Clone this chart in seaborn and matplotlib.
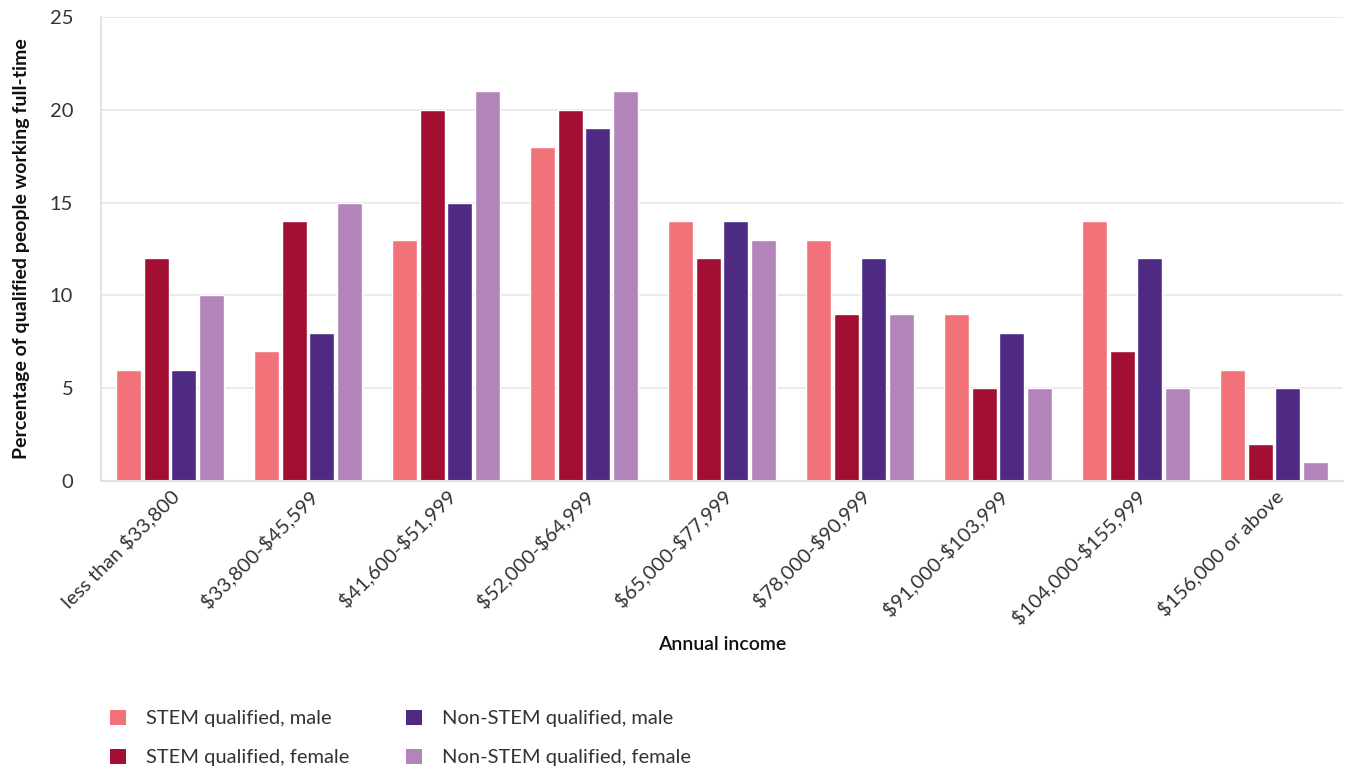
import matplotlib
matplotlib.use("Agg")
import matplotlib.pyplot as plt
from matplotlib.patches import Patch
import seaborn as sns
import pandas as pd

income_bands = [
    "less than $33,800", "$33,800-$45,599", "$41,600-$51,999", "$52,000-$64,999",
    "$65,000-$77,999", "$78,000-$90,999", "$91,000-$103,999",
    "$104,000-$155,999", "$156,000 or above",
]
groups = [
    "STEM qualified, male", "STEM qualified, female",
    "Non-STEM qualified, male", "Non-STEM qualified, female",
]
stem_male = [6, 7, 13, 18, 14, 13, 9, 14, 6]
stem_female = [12, 14, 20, 20, 12, 9, 5, 7, 2]
nonstem_male = [6, 8, 15, 19, 14, 12, 8, 12, 5]
nonstem_female = [10, 15, 21, 21, 13, 9, 5, 5, 1]
palette = ["#F2727A", "#A30F33", "#4E2A82", "#B384BA"]

rows = []
for g, vals in zip(groups, [stem_male, stem_female, nonstem_male, nonstem_female]):
    for band, v in zip(income_bands, vals):
        rows.append({"band": band, "group": g, "value": v})
df = pd.DataFrame(rows)

sns.set_theme(style="white")
plt.rcParams["font.family"] = ["Lato", "DejaVu Sans"]
plt.rcParams["text.parse_math"] = False

fig = plt.figure(figsize=(13.5, 7.72), dpi=100)
ax = fig.add_axes([101 / 1350, 1 - 481 / 772, (1343 - 101) / 1350, (481 - 17) / 772])

sns.barplot(data=df, x="band", y="value", hue="group", order=income_bands,
            hue_order=groups, palette=palette, width=0.8, gap=0.1,
            saturation=1, ax=ax, legend=False)

ax.set_ylim(0, 25)
ax.set_xlim(-0.5, len(income_bands) - 0.5)
ax.set_yticks([0, 5, 10, 15, 20, 25])
ax.yaxis.grid(True, color="#E6E6E6", linewidth=1.2)
ax.set_axisbelow(True)
for side in ["top", "right"]:
    ax.spines[side].set_visible(False)
for side in ["left", "bottom"]:
    ax.spines[side].set_color("#E3E3E3")
    ax.spines[side].set_linewidth(1.5)

ax.tick_params(axis="y", length=0, pad=20, labelsize=14.5, labelcolor="#333333")

# category separators on the baseline
ax.set_xticks([i + 0.5 for i in range(len(income_bands))], minor=True)
ax.tick_params(axis="x", which="minor", direction="in", length=10, width=1.5, color="#E3E3E3")
ax.tick_params(axis="x", which="major", length=0, pad=4, labelsize=14.5, labelcolor="#333333")
ax.set_xticks(range(len(income_bands)))
ax.set_xticklabels(income_bands, rotation=45, ha="right", rotation_mode="anchor")

ax.set_xlabel("Annual income", fontsize=14, fontweight="semibold", color="#111111", labelpad=6)
ax.set_ylabel("Percentage of qualified people working full-time", fontsize=14,
              fontweight="bold", color="#111111", labelpad=14)

handles = [Patch(facecolor=c, edgecolor="none") for c in palette]
fig.legend(handles=handles, labels=groups,
           ncol=2, loc="lower left", bbox_to_anchor=(92 / 1350, -0.016), frameon=False,
           handlelength=0.8, handleheight=0.8, handletextpad=1.0, columnspacing=2.8,
           labelspacing=1.05, prop={"size": 14.5}, labelcolor="#333333")

fig.savefig("out.png", dpi=100)
